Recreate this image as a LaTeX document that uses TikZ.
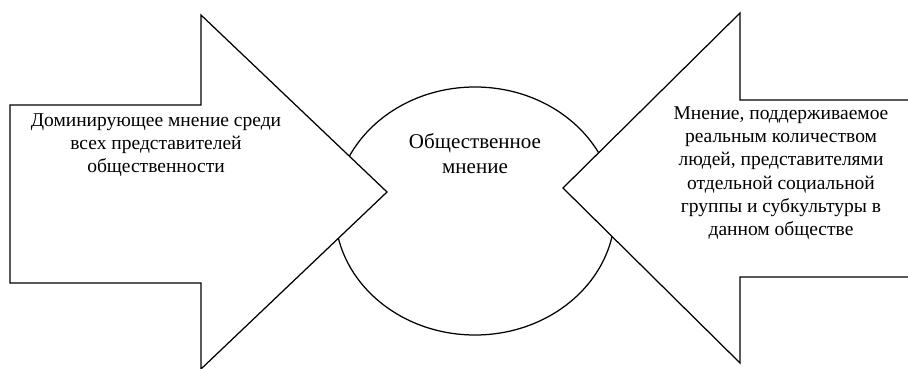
\documentclass[tikz,border=0pt]{standalone}
\usepackage{fontspec}
\setmainfont{Liberation Serif}
\usetikzlibrary{shapes.geometric}
\begin{document}
\begin{tikzpicture}[x=1pt,y=-1pt,
  outline/.style={draw=black,line width=1.25pt,line join=miter,fill=white},
  label/.style={align=center,font=\fontsize{19.5}{23.2}\selectfont,inner sep=0pt}]
\clip (0,0) rectangle (908,369);
\fill[white] (0,0) rectangle (908,369);
% central ellipse
\node[ellipse,draw=black,line width=1.25pt,minimum width=280pt,minimum height=248pt,inner sep=0pt] (ell) at (475,211) {};
\node[align=center,inner sep=0pt,font=\fontsize{21}{25}\selectfont,anchor=north] (eltext) at (475,133) {Общественное\\мнение};
% left arrow
\draw[outline] (10,105) -- (201,105) -- (201,15) -- (387,192) -- (201,369) -- (201,283) -- (10,283) -- cycle;
\node[label,anchor=north] (ltext) at (156,113.5) {Доминирующее мнение среди\\всех представителей\\общественности};
% right arrow
\draw[outline] (920,100) -- (740,100) -- (740,13) -- (563,188) -- (740,363) -- (740,277) -- (920,277) -- cycle;
\node[label,anchor=north] (rtext) at (781,106.5) {Мнение, поддерживаемое\\реальным количеством\\людей, представителями\\отдельной социальной\\группы и субкультуры в\\данном обществе};
\end{tikzpicture}
\end{document}
